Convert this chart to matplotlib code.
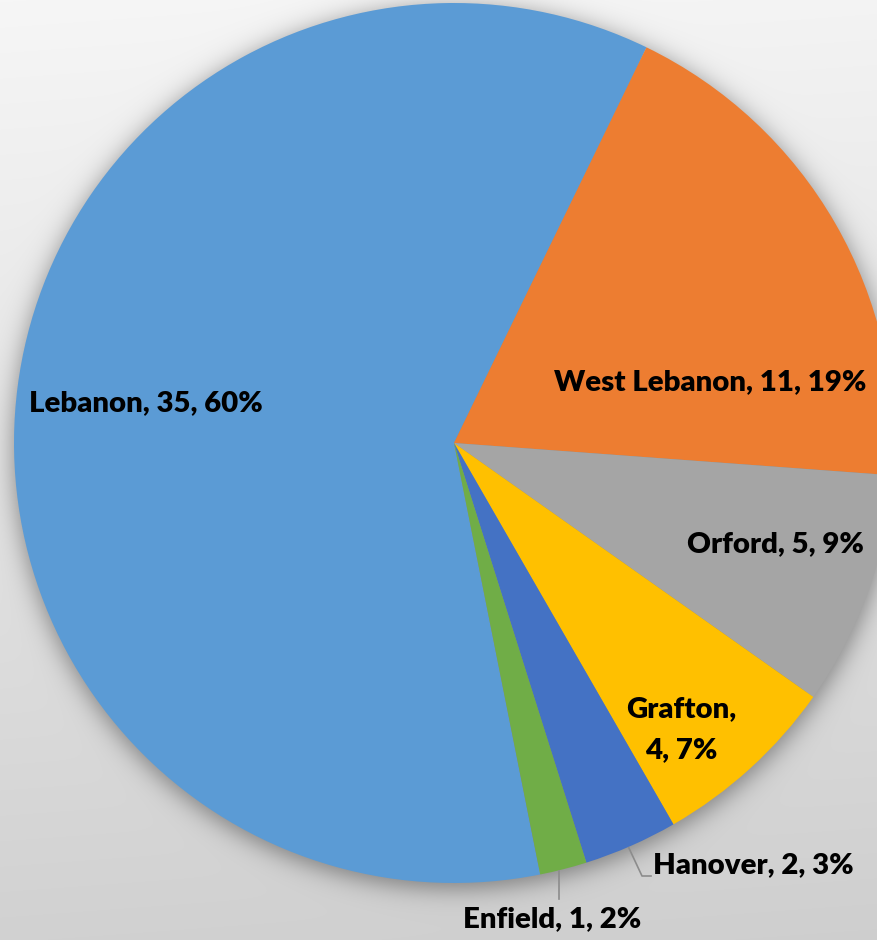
import numpy as np
import matplotlib
matplotlib.use("Agg")
import matplotlib.pyplot as plt

# ---- data ----
towns = ["Lebanon", "West Lebanon", "Orford", "Grafton", "Hanover", "Enfield"]
counts = [35, 11, 5, 4, 2, 1]
colors = ["#5B9BD5", "#ED7D31", "#A5A5A5", "#FFC000", "#4472C4", "#70AD47"]

W, H = 877, 940
fig = plt.figure(figsize=(W / 100, H / 100), dpi=100)
ax = fig.add_axes([0, 0, 1, 1])
ax.set_xlim(0, W)
ax.set_ylim(0, H)
ax.axis("off")

cx, cy_px, R = 454, 443, 440
cy = H - cy_px

def P(x, y):
    return x, H - y

# background gradient + soft shadow
yy, xx = np.mgrid[0:H, 0:W].astype(float)
bg = 0.965 - 0.145 * (yy / H) - 0.01 * (xx / W)
d = np.hypot(xx - cx, yy - (cy_px + 4))
sh = 1.0 / (1.0 + np.exp((d - (R + 2)) / 7.0))
img = bg * (1 - 0.38 * sh)
img = np.clip(img, 0, 1)
ax.imshow(np.dstack([img, img, img]), extent=(0, W, 0, H), origin="upper",
          zorder=0, interpolation="bilinear", aspect="auto")

total = sum(counts)
first_clock = 168.7  # clock angle where first slice starts
wedges, _ = ax.pie(counts, colors=colors, startangle=90 - first_clock,
                   counterclock=False, center=(cx, cy), radius=R,
                   wedgeprops=dict(linewidth=0), frame=False)
for w in wedges:
    w.set_zorder(2)
ax.set_xlim(0, W)
ax.set_ylim(0, H)
ax.set_aspect("auto")

labels = [f"{t}, {c}, {round(100 * c / total)}%" for t, c in zip(towns, counts)]

font = dict(family=["Lato", "DejaVu Sans"], fontweight="heavy", fontsize=21.2,
            color="black", zorder=5)

pos = {
    0: (146, 411),
    1: (710, 390),
    2: (775, 552),
    4: (753, 873),
    5: (552, 927),
}
for i, (px, py) in pos.items():
    ax.text(*P(px, py), labels[i], ha="center", va="baseline", **font)
# Grafton two lines
ax.text(*P(681, 717), f"{towns[3]},", ha="center", va="baseline", **font)
ax.text(*P(681, 758), f"{counts[3]}, {round(100 * counts[3] / total)}%",
        ha="center", va="baseline", **font)

# leader lines from wedge mid angles
def mid_point(w, r):
    th = np.deg2rad((w.theta1 + w.theta2) / 2)
    return cx + r * np.cos(th), cy + r * np.sin(th)

hx, hy = mid_point(wedges[4], R + 2)
ax.plot([hx - 3, 642, 651], [hy, H - 876, H - 876], color="#8c8c8c", lw=1.2, zorder=4)
ex, ey = mid_point(wedges[5], R + 2)
ax.plot([559, 559], [ey, H - 899], color="#8c8c8c", lw=1.2, zorder=4)

fig.savefig("out.png", dpi=100)
